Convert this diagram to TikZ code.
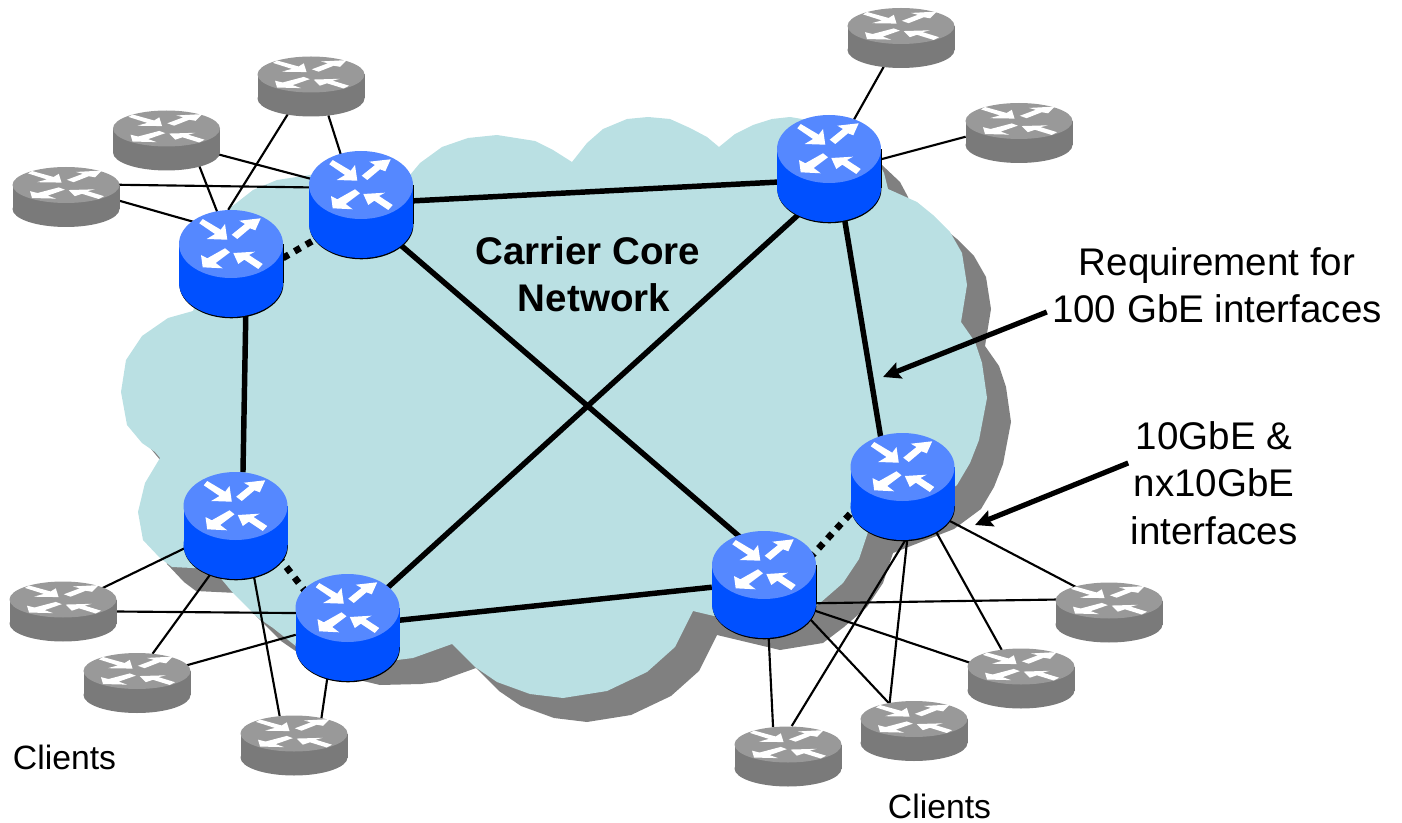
\documentclass[tikz,border=0pt]{standalone}
\usepackage{fontspec}
\setmainfont{Liberation Sans}
\usetikzlibrary{shapes.geometric}
\usetikzlibrary{arrows.meta}

\definecolor{cloudfill}{HTML}{BAE0E3}
\definecolor{cloudshade}{HTML}{808080}
\definecolor{blueside}{HTML}{0050FF}
\definecolor{bluetop}{HTML}{5588FF}
\definecolor{grayside}{HTML}{7A7A7A}
\definecolor{graytop}{HTML}{999999}

\newcommand{\cloudoutline}{
    (193,311) -- (168,318) -- (142,336) -- (126,360) -- (121,392) -- (127,425)
    -- (142,443) -- (155,452) -- (160,458) -- (145,483) -- (138,512) -- (143,540)
    -- (160,558) -- (172,567) -- (213,569) -- (233,593) -- (257,617) -- (273,628)
    -- (297,647) -- (356,661) -- (397,660) -- (413,658) -- (452,644) -- (475,667)
    -- (497,682) -- (530,694) -- (563,698) -- (607,691) -- (647,672) -- (675,647)
    -- (693,611) -- (756,626) -- (799,619) -- (820,603) -- (843,583) -- (859,559)
    -- (869,529) -- (930,505) -- (957,485) -- (970,463) -- (979,440) -- (987,398)
    -- (982,363) -- (975,342) -- (961,322) -- (967,285) -- (962,253) -- (950,232)
    -- (933,215) -- (917,202) -- (888,189) -- (884,173) -- (876,158) -- (858,141)
    -- (820,122) -- (790,117) -- (772,119) -- (753,125) -- (735,134) -- (719,147)
    -- (707,137) -- (690,128) -- (670,119) -- (648,117) -- (627,119) -- (603,129)
    -- (587,143) -- (572,162) -- (553,150) -- (535,141) -- (497,135) -- (468,138)
    -- (442,147) -- (420,163) -- (410,175) -- (310,175) -- (277,180) -- (253,190)
    -- (230,208) -- cycle
}

\begin{document}
\begin{tikzpicture}[
x=0.75pt,
y=-0.75pt,
bluerouter/.style={ellipse, inner sep=0, minimum width=78pt, minimum height=80.25pt},
grayrouter/.style={ellipse, inner sep=0, minimum width=80.25pt, minimum height=45.4pt},
bigtext/.style={font=\fontsize{28.9}{35.5}\selectfont, align=center, inner sep=0},
smalltext/.style={font=\fontsize{25.3}{30}\selectfont, inner sep=0},
trunk/.style={line width=4.1pt},
peer/.style={line width=5pt, dash pattern=on 5pt off 5pt},
access/.style={line width=1.6pt},
pointer/.style={line width=3.9pt, -{Stealth[length=13pt, width=12.5pt, inset=2pt]}},
routerarrows/.pic={
    \fill[white]
        (-28.3,-25) -- (-31.7,-20.7) -- (-16,-10) -- (-24.3,-5) -- (-3.7,-4.3) -- (-6,-20) -- (-10.3,-14.3) -- cycle
        (0.7,-9.3) -- (6.3,-5) -- (19,-15.7) -- (24.3,-13.7) -- (29.7,-25.7) -- (8.3,-23.3) -- (14,-20) -- cycle
        (-6,4.3) -- (-1,8.3) -- (-15.3,19) -- (-8.3,24.3) -- (-28.3,23.3) -- (-30,11) -- (-23.7,14.3) -- cycle
        (31.7,20) -- (27.3,25) -- (13.3,15.7) -- (7.3,20) -- (2.3,9) -- (24,7.7) -- (18,11) -- cycle;
},
bluepic/.pic={
    \fill[black] (-51,-19.5) rectangle (52.8,19.5);
    \fill[black] (0.4,20.8) ellipse [x radius=52, y radius=34];
    \fill[blueside] (-52,-19.5) rectangle (52,19.5);
    \fill[blueside] (0,19.5) ellipse [x radius=52, y radius=34];
    \fill[bluetop] (0,-19.5) ellipse [x radius=52, y radius=34];
    \pic at (0,-19.5) {routerarrows};
},
graypic/.pic={
    \fill[grayside] (-53.5,-12) rectangle (53.5,12);
    \fill[grayside] (0,12) ellipse [x radius=53.5, y radius=18];
    \fill[graytop] (0,-12) ellipse [x radius=53.5, y radius=18];
    \pic[xscale=1.2, yscale=0.56] at (0,-12) {routerarrows};
}
]
\useasboundingbox (0,0) rectangle (1402,823);

% cloud and its shadow
\fill[cloudshade, shift={(24,24)}] \cloudoutline;
\fill[cloudfill] \cloudoutline;

\foreach \name/\px/\py in {r1/361/204.5, r2/231/263.5, r3/829/168.5, r4/902.5/486.5, r5/764/584.5, r6/235.5/525.5, r7/347.5/627.5}
    \node[bluerouter] (\name) at (\px,\py) {};

\foreach \name/\px/\py in {g1/311/86.5, g2/166.5/140.5, g3/66/197, g4/901/38, g5/1019/133, g6/1109/612.5, g7/1021/678.5, g8/914/731, g9/788/756.5, g10/63/611.5, g11/137/683, g12/294/745.5}
    \node[grayrouter] (\name) at (\px,\py) {};

% core links
\draw[trunk] (r1.4) -- (r3.195);
\draw[trunk] (r1.-46) -- (r5.117);
\draw[trunk] (r3.237) -- (r7.45);
\draw[trunk] (r3.-73) -- (r4.114);
\draw[trunk] (r2.-74) -- (r6.82);
\draw[trunk] (r7.8) -- (r5.183);
\draw[peer] (r2.6) -- (r1.218);
\draw[peer] (r6.-36) -- (r7.140);
\draw[peer] (r5.30) -- (r4.205);

% client links
\draw[access] (g1.230) -- (r2.93);
\draw[access] (g1.-59) -- (r1.112);
\draw[access] (g2.-15) -- (r1.152);
\draw[access] (g2.-37) -- (r2.105);
\draw[access] (g3.14) -- (r1.161);
\draw[access] (g3.-4) -- (r2.130);
\draw[access] (g4.239) -- (r3.63);
\draw[access] (g5.184) -- (r3.10);
\draw[access] (r4.-37) -- (g6.142);
\draw[access] (r5.-21) -- (g6.165);
\draw[access] (r4.-53) -- (g7.124);
\draw[access] (r5.-28) -- (g7.163);
\draw[access] (r4.-85) -- (g8.132);
\draw[access] (r5.-36) -- (g8.132);
\draw[access] (r4.-87) -- (g9.83);
\draw[access] (r5.-85) -- (g9.117);
\draw[access] (r6.204) -- (g10.31);
\draw[access] (r7.164) -- (g10.0);
\draw[access] (r6.243) -- (g11.62);
\draw[access] (r7.188) -- (g11.20);
\draw[access] (r6.-70) -- (g12.116);
\draw[access] (r7.248) -- (g12.44);

\foreach \name in {r1,r2,r3,r4,r5,r6,r7}
    \pic at (\name) {bluepic};
\foreach \name in {g1,g2,g3,g4,g5,g6,g7,g8,g9,g10,g11,g12}
    \pic at (\name) {graypic};

\node[bigtext, font=\fontsize{28.9}{35.5}\selectfont\bfseries] (core) at (588,274) {Carrier Core\\\hspace*{9pt}Network};
\node[bigtext] (needlabel) at (1217,285) {Requirement for\\100 GbE interfaces};
\node[bigtext] (ifacelabel) at (1214,483) {10GbE \&\\nx10GbE\\interfaces};
\node[smalltext] (clientsleft) at (64.5,757) {Clients};
\node[smalltext] (clientsright) at (939.5,806) {Clients};

\coordinate (needtip) at (883,377);
\coordinate (ifacetip) at (975,525);
\draw[pointer] ([shift={(-5,27)}]needlabel.west) -- (needtip);
\draw[pointer] ([shift={(-2,-20)}]ifacelabel.west) -- (ifacetip);
\end{tikzpicture}
\end{document}
